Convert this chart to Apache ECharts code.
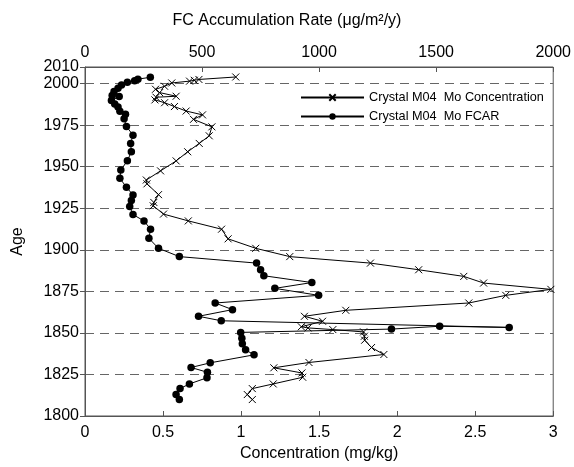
<!DOCTYPE html>
<html>
<head>
<meta charset="utf-8">
<script src="https://cdn.jsdelivr.net/npm/echarts@6/dist/echarts.min.js"></script>
<style>html,body{margin:0;padding:0;background:#fff}#c{width:574px;height:467px}</style>
</head>
<body>
<div id="c"></div>
<script>
// Concentration series (bottom axis, mg/kg)
const concAge = [2004.0,2002.5,2002.0,2001.5,2000.4,1998.4,1996.6,1994.6,1992.4,1991.8,1990.2,1988.5,1986.2,1983.5,1981.2,1978.5,1974.0,1968.6,1964.0,1959.0,1953.5,1947.5,1942.0,1939.7,1933.2,1928.5,1926.5,1921.5,1917.4,1912.4,1906.6,1900.9,1895.9,1892.0,1888.0,1884.0,1880.0,1876.2,1872.6,1868.0,1863.6,1860.0,1857.0,1853.7,1853.0,1852.0,1850.6,1848.0,1845.6,1841.2,1837.0,1832.2,1829.0,1825.9,1823.3,1819.3,1816.5,1812.9,1809.9];
const concVal = [0.966,0.73,0.70,0.67,0.556,0.51,0.452,0.478,0.584,0.455,0.448,0.51,0.573,0.648,0.753,0.695,0.813,0.796,0.732,0.658,0.584,0.484,0.393,0.397,0.471,0.441,0.437,0.503,0.662,0.875,0.917,1.094,1.312,1.829,2.138,2.427,2.554,2.985,2.696,2.459,1.671,1.406,1.522,1.386,1.429,1.588,1.785,1.79,1.792,1.836,1.915,1.435,1.21,1.39,1.395,1.206,1.072,1.04,1.072];
// FCAR series (top axis, ug/m2/y)
const fcarAge = [2003.8,2002.7,2001.8,2000.8,1999.2,1997.2,1995.2,1992.8,1992.2,1989.9,1987.8,1985.9,1983.3,1981.5,1978.9,1974.2,1969.0,1964.0,1959.0,1953.6,1948.0,1943.0,1937.7,1933.0,1929.7,1926.0,1921.2,1917.4,1912.4,1906.9,1900.9,1895.9,1892.0,1888.0,1884.4,1880.3,1876.8,1872.6,1868.0,1864.0,1860.0,1857.3,1853.3,1854.0,1852.3,1850.3,1846.8,1843.5,1839.8,1836.8,1832.0,1829.2,1826.3,1823.0,1819.3,1816.5,1812.9,1809.9];
const fcarVal = [279,226,212,181,156,141,124,116,146,113,127,141,149,173,167,177,205,195,198,181,153,149,177,205,198,191,205,252,280,273,314,403,733,750,764,969,811,998,556,630,485,582,1812,1515,1309,665,670,672,686,722,535,453,523,521,446,406,389,403];

const seriesNames = ['Crystal M04  Mo Concentration', 'Crystal M04  Mo FCAR'];
const ageTicks = {min: 1800, max: 2010, interval: 25};
const concTicks = {min: 0, max: 3, interval: 0.5};
const fcarTicks = {min: 0, max: 2000, interval: 500};

const FONT = 'Liberation Sans, Arial, sans-serif';
const FS = 16;
const AXC = '#555';
const crossPath = 'path://M0,0L10,10M10,0L0,10';
const plain = v => String(v);

const chart = echarts.init(document.getElementById('c'), null, {renderer: 'canvas'});
chart.setOption({
  animation: false,
  backgroundColor: '#fff',
  title: {
    text: 'FC Accumulation Rate (μg/m²/y)', left: 'center', top: 8,
    textStyle: {fontFamily: FONT, fontSize: FS, fontWeight: 'normal', color: '#000'}
  },
  grid: {left: 85, right: 18, top: 67, bottom: 49, show: true, borderColor: AXC, borderWidth: 1, backgroundColor: 'transparent'},
  legend: {
    orient: 'vertical', left: 295, top: 86, itemGap: 6, itemWidth: 63, itemHeight: 8,
    data: seriesNames,
    textStyle: {fontFamily: FONT, fontSize: 12.7, color: '#000'}
  },
  xAxis: [
    {type: 'value', position: 'bottom', min: concTicks.min, max: concTicks.max, interval: concTicks.interval,
     name: 'Concentration (mg/kg)', nameLocation: 'middle', nameGap: 30,
     nameTextStyle: {fontFamily: FONT, fontSize: FS, color: '#000'},
     axisLine: {show: true, lineStyle: {color: AXC}},
     axisTick: {show: true, inside: true, length: 5, lineStyle: {color: AXC}},
     axisLabel: {fontFamily: FONT, fontSize: FS, color: '#000', margin: 9, formatter: plain},
     splitLine: {show: false}},
    {type: 'value', position: 'top', min: fcarTicks.min, max: fcarTicks.max, interval: fcarTicks.interval,
     axisLine: {show: true, lineStyle: {color: AXC}},
     axisTick: {show: true, inside: true, length: 5, lineStyle: {color: AXC}},
     axisLabel: {fontFamily: FONT, fontSize: FS, color: '#000', margin: 6, formatter: plain},
     splitLine: {show: false}}
  ],
  yAxis: {
    type: 'value', min: ageTicks.min, max: ageTicks.max, interval: ageTicks.interval,
    name: 'Age', nameLocation: 'middle', nameGap: 59,
    nameTextStyle: {fontFamily: FONT, fontSize: FS, color: '#000'},
    axisLine: {show: true, lineStyle: {color: AXC}},
    axisTick: {show: true, inside: false, length: 5, lineStyle: {color: AXC}},
    axisLabel: {fontFamily: FONT, fontSize: FS, color: '#000', margin: 6, showMaxLabel: true, showMinLabel: true, formatter: plain},
    splitLine: {show: true, lineStyle: {color: '#666', type: [9, 6], width: 1}}
  },
  series: [
    {name: seriesNames[0], type: 'line', xAxisIndex: 0, data: concVal.map((v, i) => [v, concAge[i]]),
     symbol: crossPath, symbolSize: 7, showAllSymbol: true,
     lineStyle: {color: '#000', width: 1},
     itemStyle: {color: '#000', borderColor: '#000', borderWidth: 1}},
    {name: seriesNames[1], type: 'line', xAxisIndex: 1, data: fcarVal.map((v, i) => [v, fcarAge[i]]),
     symbol: 'circle', symbolSize: 7.5, showAllSymbol: true,
     lineStyle: {color: '#000', width: 1},
     itemStyle: {color: '#000', borderWidth: 0}}
  ]
});
</script>
</body>
</html>
